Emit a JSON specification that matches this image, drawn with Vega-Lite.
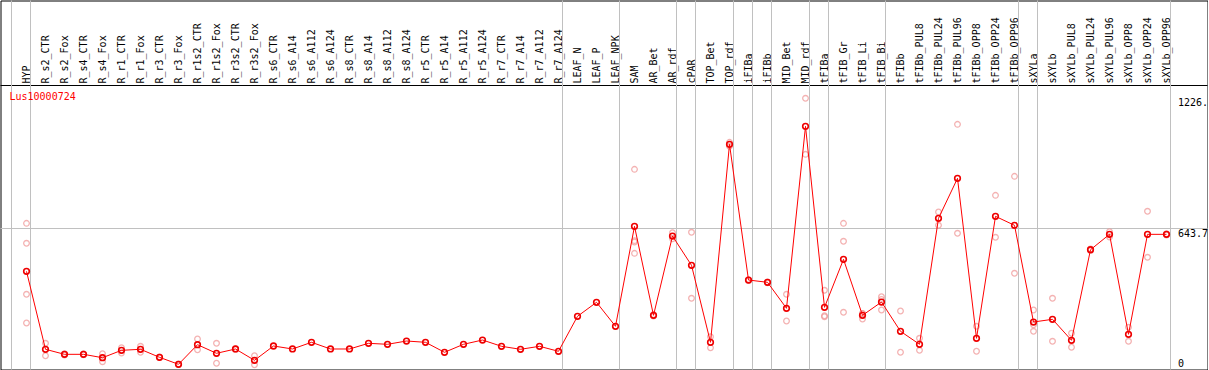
{
  "$schema": "https://vega.github.io/schema/vega-lite/v6.json",
  "width": 1207,
  "height": 369,
  "autosize": {"type": "none"},
  "padding": {"left": 0.5, "top": 0.5, "right": 0, "bottom": 0},
  "background": "white",
  "config": {"view": {"stroke": "black", "strokeWidth": 1}, "font": "DejaVu Sans Mono"},
  "title": {"text": "Lus10000724", "anchor": "start", "frame": "group", "orient": "top", "color": "red", "font": "DejaVu Sans Mono", "fontSize": 10, "fontWeight": "normal", "offset": -110, "baseline": "alphabetic", "dx": 9},
  "data": {"values": [
    {"sample": "HYP", "group": "HYP", "mean": 452.1, "reps": [666.8, 577.4, 349.3, 220.9]},
    {"sample": "R_s2_CTR", "group": "R", "mean": 103.3, "reps": [130.1, 74.7]},
    {"sample": "R_s2_Fox", "group": "R", "mean": 80.9, "reps": [78, 84]},
    {"sample": "R_s4_CTR", "group": "R", "mean": 80.9, "reps": [79, 83]},
    {"sample": "R_s4_Fox", "group": "R", "mean": 65.7, "reps": [83.6, 47.9]},
    {"sample": "R_r1_CTR", "group": "R", "mean": 98.8, "reps": [110.5, 86.8]},
    {"sample": "R_r1_Fox", "group": "R", "mean": 103.3, "reps": [116.7, 89.9]},
    {"sample": "R_r3_CTR", "group": "R", "mean": 67.5, "reps": [66, 69]},
    {"sample": "R_r3_Fox", "group": "R", "mean": 36.2, "reps": [35, 37.5]},
    {"sample": "R_r1s2_CTR", "group": "R", "mean": 123.9, "reps": [149.4, 101.5]},
    {"sample": "R_r1s2_Fox", "group": "R", "mean": 85.4, "reps": [130.1, 40.7]},
    {"sample": "R_r3s2_CTR", "group": "R", "mean": 104.7, "reps": [103, 106]},
    {"sample": "R_r3s2_Fox", "group": "R", "mean": 54.1, "reps": [74.7, 34.4]},
    {"sample": "R_s6_CTR", "group": "R", "mean": 118.1, "reps": []},
    {"sample": "R_s6_A14", "group": "R", "mean": 104.7, "reps": []},
    {"sample": "R_s6_A112", "group": "R", "mean": 134.6, "reps": []},
    {"sample": "R_s6_A124", "group": "R", "mean": 104.7, "reps": []},
    {"sample": "R_s8_CTR", "group": "R", "mean": 104.7, "reps": []},
    {"sample": "R_s8_A14", "group": "R", "mean": 130.1, "reps": []},
    {"sample": "R_s8_A112", "group": "R", "mean": 125.7, "reps": []},
    {"sample": "R_s8_A124", "group": "R", "mean": 140.4, "reps": []},
    {"sample": "R_r5_CTR", "group": "R", "mean": 134.6, "reps": []},
    {"sample": "R_r5_A14", "group": "R", "mean": 89.9, "reps": []},
    {"sample": "R_r5_A112", "group": "R", "mean": 125.7, "reps": []},
    {"sample": "R_r5_A124", "group": "R", "mean": 144.9, "reps": []},
    {"sample": "R_r7_CTR", "group": "R", "mean": 116.7, "reps": []},
    {"sample": "R_r7_A14", "group": "R", "mean": 103.3, "reps": []},
    {"sample": "R_r7_A112", "group": "R", "mean": 116.7, "reps": []},
    {"sample": "R_r7_A124", "group": "R", "mean": 94.4, "reps": []},
    {"sample": "LEAF_N", "group": "LEAF", "mean": 250.9, "reps": []},
    {"sample": "LEAF_P", "group": "LEAF", "mean": 313.5, "reps": []},
    {"sample": "LEAF_NPK", "group": "LEAF", "mean": 206.2, "reps": []},
    {"sample": "SAM", "group": "AR", "mean": 653.4, "reps": [908.3, 583.2, 532.6, 589.5]},
    {"sample": "AR_Bet", "group": "AR", "mean": 255.4, "reps": [252, 259]},
    {"sample": "AR_rdf", "group": "AR", "mean": 610.0, "reps": [624.8, 597.9]},
    {"sample": "cPAR", "group": "cPAR", "mean": 479.0, "reps": [626.6, 331.4]},
    {"sample": "TOP_Bet", "group": "TOP", "mean": 134.6, "reps": [159.7, 110.5]},
    {"sample": "TOP_rdf", "group": "TOP", "mean": 1020.1, "reps": [1029.1, 1011.2]},
    {"sample": "iFIBa", "group": "iFIBa", "mean": 413.2, "reps": [411, 415]},
    {"sample": "iFIBb", "group": "iFIBb", "mean": 403.0, "reps": [401, 405]},
    {"sample": "MID_Bet", "group": "MID", "mean": 286.7, "reps": [349.3, 229.9]},
    {"sample": "MID_rdf", "group": "MID", "mean": 1100.6, "reps": [1226, 975.4]},
    {"sample": "tFIBa", "group": "tFIBa", "mean": 291.1, "reps": [367.2, 253.6, 249.1]},
    {"sample": "tFIB_Gr", "group": "tFIB", "mean": 505.8, "reps": [666.8, 586.3, 268.8]},
    {"sample": "tFIB_Li", "group": "tFIB", "mean": 255.4, "reps": [238.8, 264, 263]},
    {"sample": "tFIB_Bi", "group": "tFIB", "mean": 314.8, "reps": [338.6, 279.1, 326.7]},
    {"sample": "tFIBb", "group": "tFIBb", "mean": 183.8, "reps": [274.6, 89.9]},
    {"sample": "tFIBb_PUL8", "group": "tFIBb", "mean": 125.7, "reps": [152.5, 98.8]},
    {"sample": "tFIBb_PUL24", "group": "tFIBb", "mean": 689.2, "reps": [717.4, 657.9]},
    {"sample": "tFIBb_PUL96", "group": "tFIBb", "mean": 868.1, "reps": [1109.6, 622.1]},
    {"sample": "tFIBb_OPP8", "group": "tFIBb", "mean": 152.5, "reps": [206.2, 94.4]},
    {"sample": "tFIBb_OPP24", "group": "tFIBb", "mean": 698.1, "reps": [792.0, 604.2]},
    {"sample": "tFIBb_OPP96", "group": "tFIBb", "mean": 657.9, "reps": [877.0, 443.2]},
    {"sample": "sXYLa", "group": "sXYLa", "mean": 225.4, "reps": [279.1, 183.8, 213.3]},
    {"sample": "sXYLb", "group": "sXYLb", "mean": 237.5, "reps": [331.4, 139.1]},
    {"sample": "sXYLb_PUL8", "group": "sXYLb", "mean": 143.6, "reps": [174.9, 112.3]},
    {"sample": "sXYLb_PUL24", "group": "sXYLb", "mean": 548.7, "reps": [545, 552]},
    {"sample": "sXYLb_PUL96", "group": "sXYLb", "mean": 617.6, "reps": [629.2, 606]},
    {"sample": "sXYLb_OPP8", "group": "sXYLb", "mean": 170.4, "reps": [201.7, 139.1]},
    {"sample": "sXYLb_OPP24", "group": "sXYLb", "mean": 617.6, "reps": [720.5, 514.8]},
    {"sample": "sXYLb_OPP96", "group": "sXYLb", "mean": 617.6, "reps": [615, 620]}
  ]},
  "transform": [
    {"window": [{"op": "lead", "field": "group", "as": "nextGroup"}, {"op": "row_number", "as": "rowNo"}]}
  ],
  "layer": [
    {
      "mark": {"type": "rule", "color": "#c0c0c0", "strokeWidth": 1, "xOffset": 4},
      "encoding": {
        "x": {"field": "sample", "type": "nominal",
          "scale": {"type": "point", "domain": [" ", "HYP", "R_s2_CTR", "R_s2_Fox", "R_s4_CTR", "R_s4_Fox", "R_r1_CTR", "R_r1_Fox", "R_r3_CTR", "R_r3_Fox", "R_r1s2_CTR", "R_r1s2_Fox", "R_r3s2_CTR", "R_r3s2_Fox", "R_s6_CTR", "R_s6_A14", "R_s6_A112", "R_s6_A124", "R_s8_CTR", "R_s8_A14", "R_s8_A112", "R_s8_A124", "R_r5_CTR", "R_r5_A14", "R_r5_A112", "R_r5_A124", "R_r7_CTR", "R_r7_A14", "R_r7_A112", "R_r7_A124", "LEAF_N", "LEAF_P", "LEAF_NPK", "SAM", "AR_Bet", "AR_rdf", "cPAR", "TOP_Bet", "TOP_rdf", "iFIBa", "iFIBb", "MID_Bet", "MID_rdf", "tFIBa", "tFIB_Gr", "tFIB_Li", "tFIB_Bi", "tFIBb", "tFIBb_PUL8", "tFIBb_PUL24", "tFIBb_PUL96", "tFIBb_OPP8", "tFIBb_OPP24", "tFIBb_OPP96", "sXYLa", "sXYLb", "sXYLb_PUL8", "sXYLb_PUL24", "sXYLb_PUL96", "sXYLb_OPP8", "sXYLb_OPP24", "sXYLb_OPP96", "  "], "padding": 0.76316, "align": 0.24138, "round": false},
          "axis": {"orient": "top", "offset": -85, "translate": 0, "domain": true, "domainColor": "black", "domainWidth": 1, "ticks": false, "tickSize": 0, "grid": false, "labelAngle": 270, "labelAlign": "left", "labelBaseline": "middle", "labelPadding": 2, "labelFont": "DejaVu Sans Mono", "labelFontSize": 10, "labelColor": "black", "labelOverlap": false, "labelLimit": 200, "title": null}},
        "strokeOpacity": {"condition": {"test": "datum.nextGroup != datum.group", "value": 1}, "value": 0}
      }
    },
    {
      "transform": [{"filter": "datum.rowNo == 1"}],
      "mark": {"type": "rule", "color": "#c0c0c0", "strokeWidth": 1, "xOffset": -15},
      "encoding": {"x": {"field": "sample", "type": "nominal"}}
    },
    {
      "transform": [{"filter": "datum.rowNo == 1"}],
      "mark": {"type": "rule", "color": "#c0c0c0", "strokeWidth": 1},
      "encoding": {"y": {"datum": 643.7, "type": "quantitative", "scale": {"domain": [0, 1663.6], "range": [371.9, 0], "nice": false, "zero": false}}}
    },
    {
      "transform": [{"flatten": ["reps"], "as": ["rep"]}],
      "mark": {"type": "point", "shape": "circle", "filled": false, "color": "#f09494", "size": 32, "strokeWidth": 1.3},
      "encoding": {
        "x": {"field": "sample", "type": "nominal"},
        "y": {"field": "rep", "type": "quantitative", "scale": {"domain": [0, 1663.6], "range": [371.9, 0], "nice": false, "zero": false}}
      }
    },
    {
      "mark": {"type": "line", "color": "#ff0000", "strokeWidth": 1},
      "encoding": {
        "x": {"field": "sample", "type": "nominal"},
        "y": {"field": "mean", "type": "quantitative", "scale": {"domain": [0, 1663.6], "range": [371.9, 0], "nice": false, "zero": false}},
        "order": {"field": "rowNo", "type": "quantitative"}
      }
    },
    {
      "mark": {"type": "point", "shape": "circle", "filled": false, "color": "#ee0000", "size": 32, "strokeWidth": 1.6, "opacity": 1},
      "encoding": {
        "x": {"field": "sample", "type": "nominal"},
        "y": {"field": "mean", "type": "quantitative",
          "scale": {"domain": [0, 1663.6], "range": [371.9, 0], "nice": false, "zero": false},
          "axis": {"orient": "right", "offset": -29.5, "translate": 0, "values": [0, 643.7, 1226], "domain": false, "ticks": false, "tickSize": 0, "grid": false, "labelPadding": 0, "labelAlign": "left", "labelBaseline": "top", "labelFont": "DejaVu Sans Mono", "labelFontSize": 10, "labelColor": "black", "labelOverlap": false, "labelBound": false, "labelFlush": false, "labelExpr": "datum.value == 1226 ? '1226.' : datum.value == 0 ? '0' : '643.7'", "labelOffset": {"condition": {"test": "datum.value == 0", "value": -13.7}, "value": 0}, "title": null}
        }
      }
    }
  ]
}
